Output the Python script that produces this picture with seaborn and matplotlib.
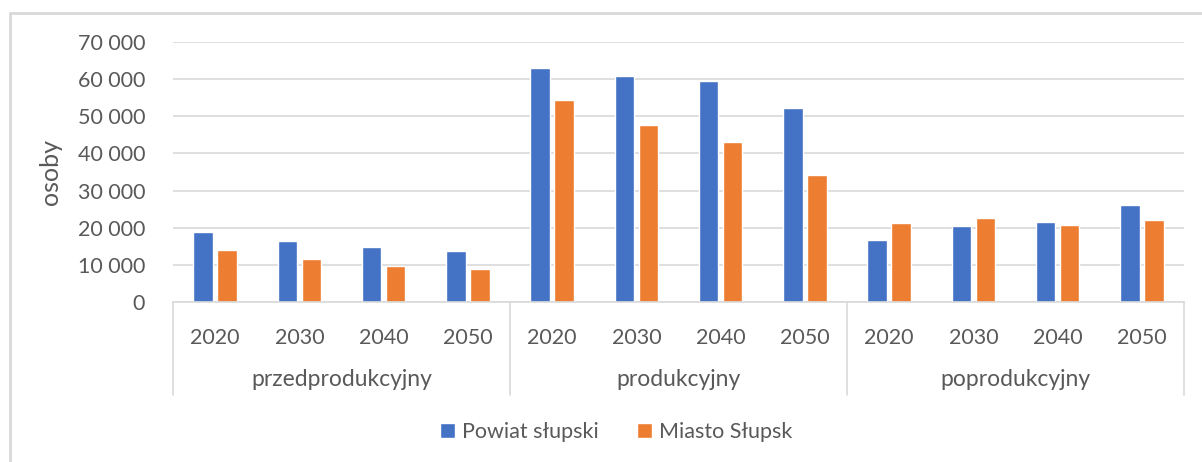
import matplotlib
matplotlib.use("Agg")
import matplotlib.pyplot as plt
import matplotlib.ticker as mticker
from matplotlib.lines import Line2D
from matplotlib.patches import Patch
import seaborn as sns
import pandas as pd

# ── Data ───────────────────────────────────────────────────────
groups = ["przedprodukcyjny", "produkcyjny", "poprodukcyjny"]
years = ["2020", "2030", "2040", "2050"]
series = ["Powiat słupski", "Miasto Słupsk"]
powiat = [18800, 16300, 14700, 13700,
          62900, 60800, 59500, 52200,
          16800, 20500, 21600, 26100]
miasto = [13900, 11500, 9800, 8800,
          54300, 47600, 43200, 34150,
          21200, 22600, 20800, 22200]
colors = ["#4472C4", "#ED7D31"]

keys = [f"{g}\n{y}" for g in groups for y in years]
df = pd.DataFrame({
    "kat": keys * 2,
    "seria": [series[0]] * 12 + [series[1]] * 12,
    "osoby": powiat + miasto,
})

# ── Style ──────────────────────────────────────────────────────
sns.set_style("white")
plt.rcParams["font.family"] = ["Lato", "DejaVu Sans"]
txt = "#595959"
grid = "#d9d9d9"

W, H = 1202, 462
fig = plt.figure(figsize=(W / 100, H / 100), dpi=100)
ax = fig.add_axes([173 / W, 160 / H, 1011 / W, 260 / H])

sns.barplot(data=df, x="kat", y="osoby", hue="seria", order=keys,
            hue_order=series, palette=colors, width=0.57, gap=0.18,
            saturation=1, legend=False, ax=ax)

ax.set_ylim(0, 70000)
ax.set_xlim(-0.5, 11.5)
ax.yaxis.set_major_locator(mticker.MultipleLocator(10000))
ax.yaxis.set_major_formatter(
    mticker.FuncFormatter(lambda v, p: f"{int(v):,}".replace(",", " ")))
ax.grid(axis="y", color=grid, linewidth=1.2)
ax.set_axisbelow(True)
for s in ["top", "right", "left"]:
    ax.spines[s].set_visible(False)
ax.spines["bottom"].set_color(grid)
ax.spines["bottom"].set_linewidth(1.2)

ax.tick_params(axis="y", length=0, pad=20, labelsize=15.5, labelcolor=txt)
ax.tick_params(axis="x", length=0, pad=19, labelsize=15.5, labelcolor=txt)
ax.set_xticks(range(12))
ax.set_xticklabels(years * 3)
ax.set_xlabel("")
ax.set_ylabel("osoby", fontsize=18, color=txt)
ax.yaxis.set_label_coords(-0.11, 0.5)

# group labels and separators under the axis
trans = ax.get_xaxis_transform()
for i, g in enumerate(groups):
    ax.text(i * 4 + 1.5, -78 / 260, g, transform=trans, ha="center",
            va="center", fontsize=16.5, color=txt)
for b in [-0.5, 3.5, 7.5, 11.5]:
    ax.add_line(Line2D([b, b], [0, -93 / 260], transform=trans,
                       color=grid, linewidth=1.2, clip_on=False))

# legend
handles = [Patch(facecolor=c, label=s) for c, s in zip(colors, series)]
fig.legend(handles=handles, loc="center", bbox_to_anchor=(616 / W, 30 / H),
           ncol=2, frameon=False, fontsize=15.5, labelcolor=txt,
           handlelength=0.7, handleheight=0.7, handletextpad=0.3,
           columnspacing=1.8)

# chart frame
fig.add_artist(Line2D([10 / W, 10 / W], [0, 1 - 13 / H], color=grid,
                      linewidth=2, transform=fig.transFigure))
fig.add_artist(Line2D([10 / W, 1], [1 - 13 / H, 1 - 13 / H], color=grid,
                      linewidth=2, transform=fig.transFigure))

fig.savefig("out.png", dpi=100)
